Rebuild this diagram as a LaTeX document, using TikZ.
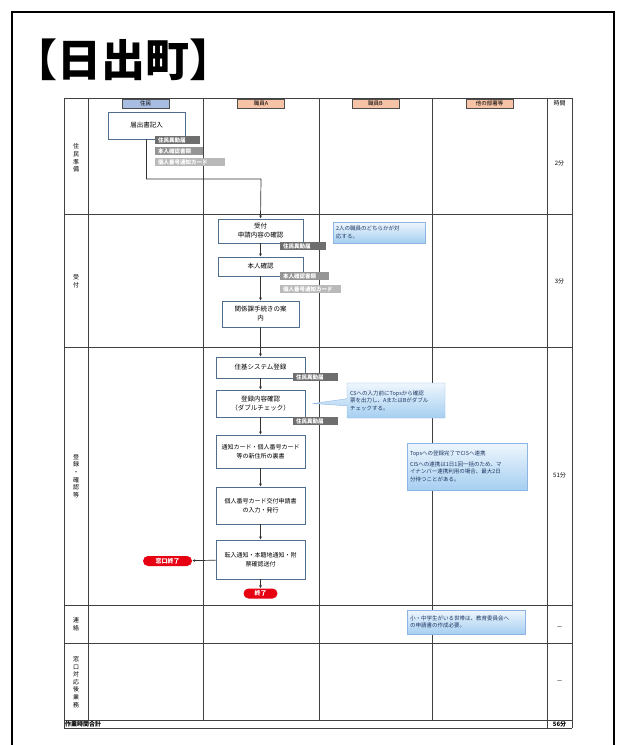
\documentclass[tikz,border=0pt]{standalone}
\usepackage{fontspec}
\setmainfont{Noto Sans CJK JP}
\usetikzlibrary{arrows.meta,shapes.callouts}

\definecolor{gridline}{HTML}{404040}
\definecolor{boxline}{HTML}{4F6D8F}
\definecolor{headblue}{HTML}{A9BDE2}
\definecolor{headpink}{HTML}{F6C3A6}
\definecolor{tagdark}{HTML}{6E6E6E}
\definecolor{tagmid}{HTML}{959595}
\definecolor{taglight}{HTML}{B9B9B9}
\definecolor{notetop}{HTML}{EEF6FD}
\definecolor{notebot}{HTML}{A6CFF1}
\definecolor{noteline}{HTML}{8EB4E3}
\definecolor{notetext}{HTML}{1F3864}
\definecolor{endred}{HTML}{E60012}

\tikzset{
  grid line/.style={gridline, line width=0.7},
  head/.style={draw=gray!60!black, minimum width=47, minimum height=9, inner sep=0, font=\fontsize{5.5}{6}\selectfont},
  stepbox/.style={draw=boxline, line width=0.9, fill=white, align=center, inner sep=1, minimum width=89, font=\fontsize{6.5}{9}\selectfont},
  tagbox/.style={anchor=north west, text=white, inner xsep=3, inner ysep=0, minimum height=8, align=left, font=\bfseries\fontsize{5.5}{6}\selectfont},
  note/.style={draw=noteline, top color=notetop, bottom color=notebot, text=notetext, align=left, inner sep=3, font=\fontsize{5.5}{7.5}\selectfont},
  endpill/.style={fill=endred, text=white, rounded corners=5, minimum height=10, inner sep=1.5, font=\bfseries\fontsize{6}{6}\selectfont},
  flow/.style={draw=black!80, line width=0.7, -{Latex[length=3,width=3]}},
  lanelabel/.style={align=center, font=\fontsize{6}{7.6}\selectfont},
  small/.style={font=\fontsize{6}{7}\selectfont},
}

\begin{document}
\begin{tikzpicture}[x=1pt,y=-1pt]
\useasboundingbox (0,0) rectangle (626,745);

% page frame and title
\draw[line width=2] (12,745) -- (12,12) -- (614,12) -- (614,745);
\node[anchor=west, inner sep=0, font=\bfseries\fontsize{44}{48}\selectfont] (title) at (13,60) {【日出町】};

% table grid
\foreach \y in {98,214,347,605,643,720,728}
  \draw[grid line] (64,\y) -- (572,\y);
\foreach \x in {64,547,572}
  \draw[grid line] (\x,98) -- (\x,728);
\foreach \x in {88,203,319,432}
  \draw[grid line] (\x,98) -- (\x,720);

% lane headers
\node[head, fill=headblue] (hresident) at (145.5,103.5) {住民};
\node[head, fill=headpink] (hstaffa) at (261,103.5) {職員A};
\node[head, fill=headpink] (hstaffb) at (375.5,103.5) {職員B};
\node[head, fill=headpink] (hother) at (489.5,103.5) {他の部署等};
\node[small] (htime) at (559.5,103.5) {時間};

% row labels and times
\node[lanelabel] (rprep) at (76,158) {住\\民\\準\\備};
\node[lanelabel] (raccept) at (76,281) {受\\付};
\node[lanelabel] (rregister) at (76,476) {登\\録\\・\\確\\認\\等};
\node[lanelabel] (rcontact) at (76,624) {連\\絡};
\node[lanelabel] (rafter) at (76,682) {窓\\口\\対\\応\\後\\業\\務};
\node[anchor=west, inner sep=1, font=\bfseries\fontsize{6}{7}\selectfont] (rtotal) at (64,724) {作業時間合計};
\foreach \t/\y in {2分/163, 3分/281, 51分/475, －/628, －/682}
  \node[small] at (559.5,\y) {\t};
\node[font=\bfseries\fontsize{6}{7}\selectfont] (ttotal) at (559.5,724) {56分};

% steps
\node[stepbox, minimum width=77, minimum height=27] (entry) at (146.5,125.5) {届出書記入};
\node[stepbox, minimum width=85, minimum height=24] (accept) at (260.5,231) {受付\\申請内容の確認};
\node[stepbox, minimum width=85, minimum height=19] (identity) at (260.5,266.5) {本人確認};
\node[stepbox, minimum width=77, minimum height=26] (guide) at (260.5,314) {関係課手続きの案\\内};
\node[stepbox, minimum height=21] (register) at (260.5,367.5) {住基システム登録};
\node[stepbox, minimum height=27] (check) at (260.5,403.5) {登録内容確認\\（ダブルチェック）};
\node[stepbox, minimum height=33, font=\fontsize{6}{9}\selectfont] (endorse) at (260.5,451.5) {通知カード・個人番号カード\\等の新住所の裏書};
\node[stepbox, minimum height=37, font=\fontsize{6}{9}\selectfont] (apply) at (260.5,505.5) {個人番号カード交付申請書\\の入力・発行};
\node[stepbox, minimum height=39, font=\fontsize{6}{9}\selectfont] (notify) at (260.5,559.5) {転入通知・本籍地通知・附\\票確認送付};
\node[endpill, minimum width=34] (done) at (260.5,593.5) {終了};
\node[endpill, minimum width=49] (deskdone) at (167.5,561) {窓口終了};

% documents
\node[tagbox, fill=tagdark, text width=39] (doc1) at (155,136) {住民異動届};
\node[tagbox, fill=tagmid, text width=42] (doc2) at (155,147) {本人確認書類};
\node[tagbox, fill=taglight, text width=64] (doc3) at (155,158) {個人番号通知カード};
\node[tagbox, fill=tagdark, text width=40] (doc4) at (280,242) {住民異動届};
\node[tagbox, fill=tagmid, text width=43] (doc5) at (280,272) {本人確認書類};
\node[tagbox, fill=taglight, text width=55] (doc6) at (280,285) {個人番号通知カード};
\node[tagbox, fill=tagdark, text width=39] (doc7) at (293,373) {住民異動届};
\node[tagbox, fill=tagdark, text width=39] (doc8) at (293,417) {住民異動届};

% notes
\node[note, text width=86, minimum height=21] (note1) at (379,232.5) {2人の職員のどちらかが対\\応する。};
\node[note, rectangle callout, callout absolute pointer={([xshift=8pt]check.east)}, text width=92, minimum height=35] (note2) at (396,400.5) {CSへの入力前にTopsから確認\\票を出力し、AまたはBがダブル\\チェックする。};
\node[note, text width=114, minimum height=47] (note3) at (467,466.5) {Topsへの登録完了でCISへ連携\\[3pt]CISへの連携は1日1回一括のため、マ\\イナンバー連携利用の場合、最大2日\\分待つことがある。};
\node[note, text width=112, minimum height=24] (note4) at (466,622) {小・中学生がいる世帯は、教育委員会へ\\の申請書の作成必要。};

% flow
\coordinate (bend) at (261,179);
\draw[flow] (entry.south) |- (bend) -- (accept.north);
\draw[flow] (accept) -- (identity);
\draw[flow] (identity) -- (guide);
\draw[flow] (guide) -- (register);
\draw[flow] (register) -- (check);
\draw[flow] (check) -- (endorse);
\draw[flow] (endorse) -- (apply);
\draw[flow] (apply) -- (notify);
\draw[flow] (notify) -- (done);
\draw[flow] (notify) -- (deskdone);
\end{tikzpicture}
\end{document}
